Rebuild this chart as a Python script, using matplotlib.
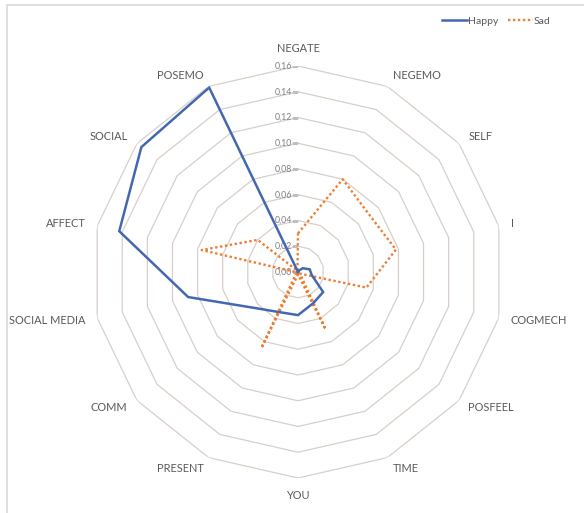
import numpy as np
import matplotlib
matplotlib.use("Agg")
import matplotlib.pyplot as plt
from matplotlib.patches import Rectangle
from matplotlib.lines import Line2D

categories = ["NEGATE", "NEGEMO", "SELF", "I", "COGMECH", "POSFEEL", "TIME",
              "YOU", "PRESENT", "COMM", "SOCIAL MEDIA", "AFFECT", "SOCIAL", "POSEMO"]
happy = [0.000, 0.001, 0.0047, 0.0093, 0.011, 0.025, 0.027,
         0.0335, 0.0345, 0.0445, 0.0875, 0.1424, 0.1556, 0.159]
sad = [0.030, 0.080, 0.071, 0.078, 0.0545, 0.002, 0.0495,
       0.002, 0.0656, 0.002, 0.001, 0.0767, 0.040, 0.001]
ticks = [0.00, 0.02, 0.04, 0.06, 0.08, 0.10, 0.12, 0.14, 0.16]
tick_labels = ["0,00", "0,02", "0,04", "0,06", "0,08", "0,10", "0,12", "0,14", "0,16"]

FONT = "Lato"
W, H = 584, 513
fig = plt.figure(figsize=(W / 100, H / 100), dpi=100)
fig.patch.set_facecolor("white")

# outer chart frame
fig.patches.append(Rectangle((7 / W, -0.05), 1.2, (H - 5) / H + 0.05,
                             transform=fig.transFigure, fill=False,
                             edgecolor="#d9d9d9", linewidth=1.2))

cx, cy, R = 298, 513 - 272, 206
ax = fig.add_axes([(cx - R) / W, (cy - R) / H, 2 * R / W, 2 * R / H], polar=True)
ax.set_theta_offset(np.pi / 2)
ax.set_theta_direction(-1)
ax.set_ylim(0, 0.16)
ax.set_facecolor("none")
ax.grid(False)
ax.spines["polar"].set_visible(False)
ax.set_xticks([])
ax.set_yticks([])

n = len(categories)
theta = np.arange(n) * 2 * np.pi / n
theta_c = np.append(theta, theta[0])

grid_color = "#d8cfc8"
for v in ticks[1:]:
    ax.plot(theta_c, [v] * (n + 1), color=grid_color, lw=0.9, zorder=1)

# value axis tick labels and tick marks
for v, lab in zip(ticks, tick_labels):
    ax.plot([0], [v], marker=0, markersize=4, color="#bfbfbf", mew=0.8, zorder=2)
    ax.annotate(lab, xy=(0, v), xytext=(-4.5, 0), textcoords="offset points",
                ha="right", va="center", fontsize=6.3, color="#7f7f7f",
                family=FONT, zorder=2)

h_vals = np.append(happy, happy[0])
s_vals = np.append(sad, sad[0])
ax.plot(theta_c, h_vals, color="#4468b0", lw=1.8, zorder=4, solid_joinstyle="miter")
ax.plot(theta_c, s_vals, color="#ed7d31", lw=1.7, linestyle=(0, (1, 1.1)),
        zorder=3, dash_capstyle="butt")

# category labels
r_lab = 0.16 * 218 / 206
for t, name in zip(theta, categories):
    ang = np.pi / 2 - t
    c, s = np.cos(ang), np.sin(ang)
    if abs(c) < 0.1:
        ha = "center"
        va = "bottom" if s > 0 else "top"
    else:
        ha = "left" if c > 0 else "right"
        va = "center"
    ax.text(t, r_lab, name, ha=ha, va=va, fontsize=7.9, color="#595959",
            family=FONT, clip_on=False)

handles = [Line2D([], [], color="#4468b0", lw=1.8),
           Line2D([], [], color="#ed7d31", lw=1.7, linestyle=(0, (1, 1.1)))]
fig.legend(handles, ["Happy", "Sad"], loc="center", bbox_to_anchor=(496 / W, 1 - 21 / H),
           ncol=2, frameon=False, handlelength=2.4, handletextpad=0.1,
           columnspacing=0.9, prop={"family": FONT, "size": 7.5},
           labelcolor="#595959")

fig.savefig("out.png", dpi=100, facecolor="white")
